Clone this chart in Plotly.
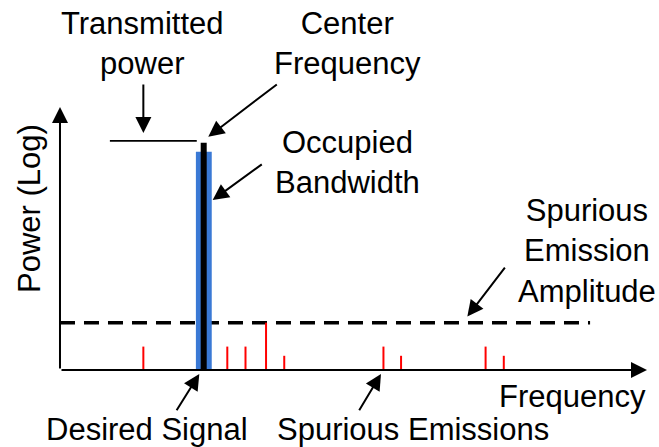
import plotly.graph_objects as go

# ---- data (frequency in arbitrary units, power in log units) ----
signal_center = 24.5
signal_bandwidth = 2.7
signal_power = 83.0
carrier_freq = 24.48
carrier_power = 86.4
transmitted_level = 87.1
transmitted_line_x = [8.5, 23.3]
spurious_limit = 18.0
spurious_limit_x = [0.0, 90.3]
spur_freq = [14.2, 28.5, 31.6, 35.1, 38.2, 55.1, 58.1, 72.5, 75.6]
spur_power = [8.9, 8.9, 8.9, 18.0, 5.4, 8.9, 5.4, 8.9, 5.4]

FONT = "Liberation Sans, Arial, sans-serif"
FS = 31

fig = go.Figure()

# spurious emission limit (dashed)
fig.add_trace(go.Scatter(
    x=spurious_limit_x, y=[spurious_limit, spurious_limit], mode="lines",
    line=dict(color="black", width=3.5, dash="15px,9px"), hoverinfo="skip"))

# occupied bandwidth (blue)
half = signal_bandwidth / 2
fig.add_trace(go.Scatter(
    x=[signal_center - half, signal_center + half, signal_center + half, signal_center - half, signal_center - half],
    y=[0, 0, signal_power, signal_power, 0], mode="lines", fill="toself",
    fillcolor="#3A79D5", line=dict(color="#3A79D5", width=0), hoverinfo="skip"))

# carrier (black)
fig.add_trace(go.Scatter(
    x=[carrier_freq, carrier_freq], y=[0, carrier_power], mode="lines",
    line=dict(color="black", width=6), hoverinfo="skip"))

# transmitted power level line
fig.add_trace(go.Scatter(
    x=transmitted_line_x, y=[transmitted_level, transmitted_level], mode="lines",
    line=dict(color="black", width=1.8), hoverinfo="skip"))

# spurious emissions (red)
sx, sy = [], []
for f, p in zip(spur_freq, spur_power):
    sx += [f, f, None]
    sy += [0, p, None]
fig.add_trace(go.Scatter(x=sx, y=sy, mode="lines",
                         line=dict(color="#FF0000", width=2), hoverinfo="skip"))

annotations = []

def arrow(tail, tip, width=2, size=1.6):
    annotations.append(dict(
        x=tip[0], y=tip[1], ax=tail[0], ay=tail[1],
        xref="x", yref="y", axref="x", ayref="y",
        text="", showarrow=True, arrowhead=2, arrowsize=size,
        arrowwidth=width, arrowcolor="black", standoff=0, startstandoff=0))

def label(txt, x, y, angle=0):
    annotations.append(dict(
        x=x, y=y, xref="x", yref="y", text=txt, showarrow=False,
        font=dict(family=FONT, size=FS, color="black"),
        xanchor="center", yanchor="middle", textangle=angle, align="center"))

# axes with arrows
arrow((0, 0), (0, 100), width=2, size=1.6)
arrow((0, 0), (100, 0), width=2, size=1.6)

# pointers
arrow((14.2, 109.1), (14.2, 90.1))
arrow((37.19, 109.0), (25.26, 88.7))
arrow((34.63, 78.6), (26.01, 64.6))
arrow((75.98, 39.5), (69.39, 20.3))
arrow((19.71, -15.9), (23.73, -1.5))
arrow((50.82, -15.9), (54.68, -1.5))

# labels
label("Transmitted<br>power", 13.97, 124.2)
label("Center<br>Frequency", 48.9, 124.2)
label("Occupied<br>Bandwidth", 48.9, 78.8)
label("Spurious<br>Emission<br>Amplitude", 89.7, 45.4)
label("Frequency", 87.3, -10.0)
label("Desired Signal", 14.9, -22.6)
label("Spurious Emissions", 60.1, -22.6)
label("Power (Log)", -5.28, 61.2, angle=-90)

fig.update_layout(
    width=659, height=447,
    margin=dict(l=0, r=0, t=0, b=0, pad=0),
    paper_bgcolor="white", plot_bgcolor="white",
    showlegend=False,
    xaxis=dict(range=[-10.22, 102.04], visible=False, fixedrange=True),
    yaxis=dict(range=[-29.28, 140.68], visible=False, fixedrange=True),
    annotations=annotations,
)

fig.write_html("out.html", config={"displayModeBar": False},
               post_script="document.body.style.margin='0px';document.body.style.overflow='hidden';")
